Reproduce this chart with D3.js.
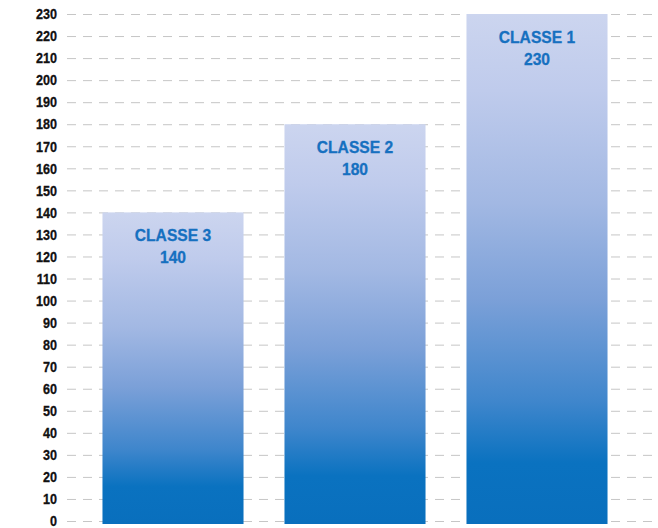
<!DOCTYPE html>
<html>
<head>
<meta charset="utf-8">
<script src="https://cdn.jsdelivr.net/npm/d3@7"></script>
<style>
  html, body { margin: 0; padding: 0; background: #fff; }
  svg { display: block; }
  .tick-label, .bar-label {
    font-family: "Liberation Sans", Arial, sans-serif;
    font-weight: bold;
  }
</style>
</head>
<body>
<svg id="chart" width="658" height="528"></svg>
<script>
// Chart data
const categories = ["CLASSE 3", "CLASSE 2", "CLASSE 1"];
const values = [140, 180, 230];
const tickValues = d3.range(0, 231, 10);

const width = 658, height = 528;
const svg = d3.select("#chart");

const y = d3.scaleLinear().domain([0, 230]).range([521, 14]);
const x = d3.scaleBand()
  .domain(categories)
  .range([82, 628])
  .paddingInner(0.225)
  .paddingOuter(0.1125);

// Vertical gradient used by every bar
const defs = svg.append("defs");
const grad = defs.append("linearGradient")
  .attr("id", "barFill")
  .attr("x1", 0).attr("y1", 0).attr("x2", 0).attr("y2", 1);
[
  [0.00, "#ccd5ef"],
  [0.15, "#bfcbec"],
  [0.37, "#a2b8e3"],
  [0.56, "#7ba0d8"],
  [0.76, "#3f86cc"],
  [0.88, "#0a72c0"],
  [1.00, "#096fbd"]
].forEach(([o, c]) => grad.append("stop").attr("offset", o).attr("stop-color", c));

// Dashed horizontal grid with tick labels (condensed by a horizontal squeeze)
const tickSqueeze = 0.9;
const axis = d3.axisLeft(y)
  .tickValues(tickValues)
  .tickSize(-(width - 67))
  .tickPadding(10)
  .tickFormat(d3.format("d"));

const axisG = svg.append("g")
  .attr("transform", "translate(67,0)")
  .call(axis);
axisG.select(".domain").remove();
axisG.selectAll(".tick line")
  .attr("stroke", "#c6c6c6")
  .attr("stroke-width", 1)
  .attr("stroke-dasharray", "9 7");
axisG.selectAll(".tick text")
  .attr("class", "tick-label")
  .attr("fill", "#111")
  .attr("font-size", 14)
  .attr("stroke", "#111")
  .attr("stroke-width", 0.3)
  .attr("x", -10 / tickSqueeze)
  .attr("dy", "0.34em")
  .attr("transform", `scale(${tickSqueeze},1)`);

// Bars
svg.append("g")
  .selectAll("rect")
  .data(categories)
  .join("rect")
  .attr("x", d => x(d))
  .attr("width", x.bandwidth())
  .attr("y", (d, i) => y(values[i]))
  .attr("height", (d, i) => y(0) - y(values[i]) + 3)
  .attr("fill", "url(#barFill)");

// Name and value labels near the top of each bar
const labelSqueeze = 0.92;
const labels = svg.append("g")
  .selectAll("g")
  .data(categories)
  .join("g")
  .attr("transform", (d, i) =>
    `translate(${x(d) + x.bandwidth() / 2},${y(values[i])}) scale(${labelSqueeze},1)`);

const txt = labels.append("text")
  .attr("class", "bar-label")
  .attr("text-anchor", "middle")
  .attr("fill", "#1670c0")
  .attr("stroke", "#1670c0")
  .attr("stroke-width", 0.3)
  .attr("font-size", 17);

txt.append("tspan")
  .attr("x", 0)
  .attr("y", 29)
  .text(d => d);
txt.append("tspan")
  .attr("x", 0)
  .attr("y", 51)
  .text((d, i) => values[i]);
</script>
</body>
</html>
